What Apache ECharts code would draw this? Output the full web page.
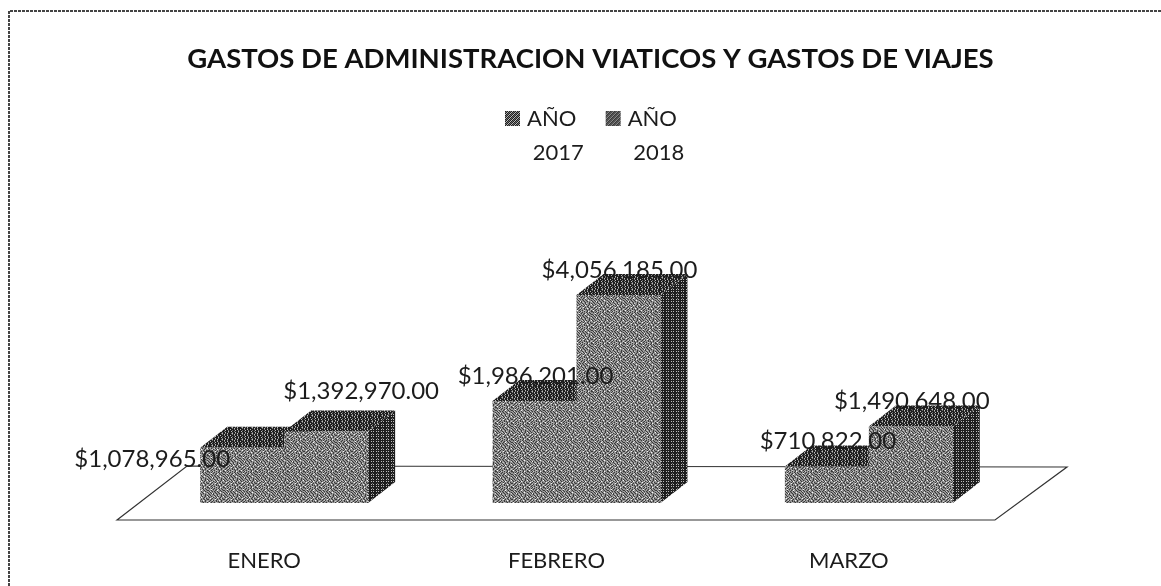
<!DOCTYPE html>
<html><head><meta charset="utf-8">
<style>html,body{margin:0;padding:0;background:#fff}#c{width:1161px;height:586px}</style>
<script src="https://cdn.jsdelivr.net/npm/echarts@6/dist/echarts.min.js"></script>
</head><body><div id="c"></div>
<script>
const categories = ['ENERO', 'FEBRERO', 'MARZO'];
const seriesNames = ['AÑO 2017', 'AÑO 2018'];
const values2017 = [1078965, 1986201, 710822];
const values2018 = [1392970, 4056185, 1490648];
const titleText = 'GASTOS DE ADMINISTRACION VIATICOS Y GASTOS DE VIAJES';

// Look settings
const DEPTH_X = 27, DEPTH_Y = 21, BAR_FRACTION = 84 / 292.5;
const labelNudge = { '0_0': [-91, 37], '1_0': [34, -15] };
function pattern(rows, pal) {
  const h = rows.length, w = rows[0].length;
  const cv = document.createElement('canvas'); cv.width = w; cv.height = h;
  const g = cv.getContext('2d');
  rows.forEach((r, y) => { for (let x = 0; x < w; x++) { g.fillStyle = pal[r[x]]; g.fillRect(x, y, 1, 1); } });
  return { image: cv, repeat: 'repeat' };
}
const pal = { '#': '#1e1e1e', '+': '#707070', '=': '#8e8e8e', '.': '#bcbcbc', 'o': '#f4f4f4' };
const frontPal = { '#': '#3a3a3a', '+': '#808080', '=': '#a0a0a0', '.': '#cccccc', 'o': '#f6f6f6' };
const frontFill = pattern([
  '#+=#+=.#=+#=+#=o',
  '=#+=.#+=#o=+#=+=',
  '+=o+#=+#=+=#+.#+',
  '#=+#=+=o+#=+#=+#',
  '=+#=.#=+#=+o=#+=',
  '+#=+#=+=#+#=+#=.',
  '=o+#=+#=.=+#=+=#',
  '#=+=#.+=#=+#o=+#',
  '+#=#=+#=+=#+=#=+',
  '=+=o+#=+#=.#=+#=',
  '#=+#=+=#+o=+#=+#',
  '=#.+#=#+=#=+=#+=',
  '+=#=+=+#=+#=o=+#',
  '#+=#o#=+#=+#=+=.',
  '=#+=+#=.+#=+=#+=',
  '+=#=+=#+=#.=+#=#'], frontPal);
const topFill = pattern([
  '##+##.##+#',
  '#+.##+#.##',
  '##+#.##+##',
  '.###+##.##',
  '##+##.##+#',
  '#.##+###.#'], pal);
const sideFill = pattern([
  '#####',
  '#.#.#',
  '#####',
  '##+##',
  '#.#.#'], pal);
const legendFill = pattern(['#+#.','+#.#','#.#+','.#+#'], pal);

const fmt = v => '$' + v.toLocaleString('en-US', { minimumFractionDigits: 2, maximumFractionDigits: 2 });

function barSeries(name, vals, side) {
  return {
    type: 'custom', name, z: 2,
    data: vals.map((v, i) => [i, v]),
    encode: { x: 0, y: 1 },
    itemStyle: { color: frontFill },
    renderItem(params, api) {
      const w = api.size([1, 0])[0] * BAR_FRACTION;
      const top = api.coord([api.value(0), api.value(1)]);
      const base = api.coord([api.value(0), 0]);
      const x0 = side === 0 ? top[0] - w : top[0], x1 = x0 + w;
      const y0 = top[1], y1 = base[1], dx = DEPTH_X, dy = DEPTH_Y;
      return { type: 'group', children: [
        { type: 'polygon', shape: { points: [[x1, y0], [x1 + dx, y0 - dy], [x1 + dx, y1 - dy], [x1, y1]] }, style: { fill: sideFill } },
        { type: 'polygon', shape: { points: [[x0, y0], [x0 + dx, y0 - dy], [x1 + dx, y0 - dy], [x1, y0]] }, style: { fill: topFill } },
        { type: 'rect', shape: { x: x0, y: y0, width: w, height: y1 - y0 }, style: { fill: frontFill } }
      ] };
    }
  };
}
function labelSeries(vals, side) {
  return {
    type: 'custom', z: 5, silent: true,
    data: vals.map((v, i) => [i, v]),
    encode: { x: 0, y: 1 },
    renderItem(params, api) {
      const w = api.size([1, 0])[0] * BAR_FRACTION;
      const top = api.coord([api.value(0), api.value(1)]);
      const n = labelNudge[side + '_' + params.dataIndex] || [0, 0];
      const cx = top[0] + (side === 0 ? -w / 2 : w / 2) + 1 + n[0];
      return { type: 'text', style: {
        x: cx, y: top[1] - 25 + n[1], text: fmt(api.value(1)), align: 'center', verticalAlign: 'middle',
        fill: '#1c1c1c', font: '24px Lato, "Open Sans", sans-serif' } };
    }
  };
}
const chart = echarts.init(document.getElementById('c'), null, { renderer: 'canvas' });
const legendIcon = 'path://M0 0H15V15H0Z M17 50L17 50';
chart.setOption({
  animation: false,
  backgroundColor: '#ffffff',
  title: { text: titleText, left: 585.5, top: 40, textAlign: 'center',
    textStyle: { fontFamily: 'Lato', fontWeight: 'bold', fontSize: 27.5, color: '#111' } },
  legend: {
    left: 500, top: 97, itemWidth: 17, itemHeight: 50, itemGap: 22, selectedMode: false,
    icon: legendIcon,
    data: seriesNames.map(n => ({ name: n, icon: legendIcon, itemStyle: { color: legendFill } })),
    formatter: n => n.replace(' ', '\n\u00a0'),
    textStyle: { fontFamily: 'Lato', fontSize: 22, color: '#1c1c1c', lineHeight: 34 }
  },
  grid: { left: 138, width: 877, top: 246.5, height: 256.5 },
  xAxis: { type: 'category', data: categories, axisLine: { show: false }, axisTick: { show: false },
    axisLabel: { margin: 47, fontFamily: 'Lato', fontSize: 22, color: '#1c1c1c', padding: [0, 40, 0, 0] } },
  yAxis: { type: 'value', min: 0, max: 5000000, show: false, splitLine: { show: false } },
  graphic: [
    { type: 'polygon', z: 0, shape: { points: [[117, 520], [187, 466], [1067, 467], [995, 520]] },
      style: { fill: '#fff', stroke: '#333', lineWidth: 1.2 } },
    { type: 'polyline', z: 0, shape: { points: [[9, 586], [9, 11], [1161, 11]] },
      style: { fill: 'none', stroke: '#444', lineWidth: 2, lineDash: [3, 1] } }
  ],
  series: [
    barSeries(seriesNames[0], values2017, 0),
    barSeries(seriesNames[1], values2018, 1),
    labelSeries(values2017, 0),
    labelSeries(values2018, 1)
  ]
});
</script></body></html>
